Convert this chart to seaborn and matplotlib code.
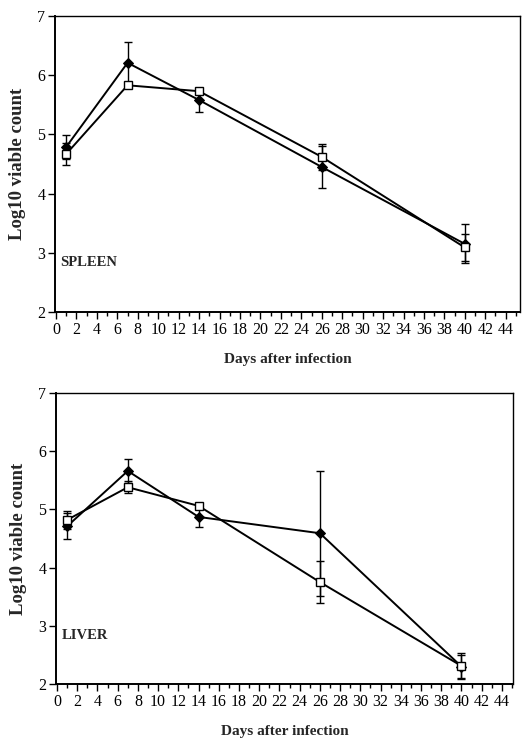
import matplotlib
matplotlib.use("Agg")
import matplotlib.pyplot as plt
from matplotlib.ticker import MultipleLocator
import seaborn as sns
import pandas as pd

days = [1, 7, 14, 26, 40]

spleen_filled = [4.79, 6.21, 5.58, 4.45, 3.15]
spleen_filled_err = [0.20, 0.35, 0.20, 0.36, 0.33]
spleen_open = [4.67, 5.83, 5.73, 4.62, 3.09]
spleen_open_err = [0.18, 0.05, 0.05, 0.22, 0.23]

liver_filled = [4.71, 5.66, 4.87, 4.59, 2.30]
liver_filled_err = [0.22, 0.21, 0.17, 1.07, 0.20]
liver_open = [4.82, 5.38, 5.06, 3.75, 2.31]
liver_open_err = [0.15, 0.10, 0.05, 0.36, 0.23]

x_ticks = list(range(0, 46, 2))
y_ticks = [2, 3, 4, 5, 6, 7]
panel_labels = ["SPLEEN", "LIVER"]
xlabel = "Days after infection"
ylabel = "Log10 viable count"

sns.set_theme(style="ticks")
plt.rcParams["font.family"] = ["Liberation Serif", "DejaVu Serif"]
plt.rcParams["axes.edgecolor"] = "black"
plt.rcParams["xtick.color"] = "black"
plt.rcParams["ytick.color"] = "black"

fig = plt.figure(figsize=(5.31, 7.42), dpi=100)
ax_top = fig.add_axes([0.1036, 0.5795, 0.8757, 0.3989])
ax_bot = fig.add_axes([0.1055, 0.0782, 0.8606, 0.3922])

panels = [
    (ax_top, spleen_filled, spleen_filled_err, spleen_open, spleen_open_err, panel_labels[0], 45.4),
    (ax_bot, liver_filled, liver_filled_err, liver_open, liver_open_err, panel_labels[1], 45.1),
]

for ax, yf, ef, yo, eo, label, xmax in panels:
    df_f = pd.DataFrame({"day": days, "val": yf})
    df_o = pd.DataFrame({"day": days, "val": yo})
    ax.errorbar(days, yf, yerr=ef, fmt="none", ecolor="black", elinewidth=1.0,
                capsize=3.2, capthick=1.0, zorder=2)
    ax.errorbar(days, yo, yerr=eo, fmt="none", ecolor="black", elinewidth=1.0,
                capsize=3.2, capthick=1.0, zorder=2)
    sns.lineplot(data=df_f, x="day", y="val", ax=ax, color="black", linewidth=1.4,
                 marker="D", markersize=5.2, markerfacecolor="black",
                 markeredgecolor="black", zorder=3)
    sns.lineplot(data=df_o, x="day", y="val", ax=ax, color="black", linewidth=1.4,
                 marker="s", markersize=6.0, markerfacecolor="white",
                 markeredgecolor="black", markeredgewidth=1.0, zorder=4)
    ax.set_xlim(-0.1, xmax)
    ax.set_ylim(2, 7)
    ax.set_xticks(x_ticks)
    ax.xaxis.set_minor_locator(MultipleLocator(1))
    ax.set_yticks(y_ticks)
    ax.tick_params(axis="both", which="major", direction="out", length=5, width=1.0,
                   labelsize=11.5, pad=2)
    ax.tick_params(axis="x", which="minor", direction="out", length=3, width=1.0)
    for s in ax.spines.values():
        s.set_visible(True)
        s.set_linewidth(1.0)
        s.set_color("black")
    ax.spines["left"].set_linewidth(1.4)
    ax.spines["bottom"].set_linewidth(1.4)
    ax.set_xlabel(xlabel, fontsize=11, fontweight="bold", labelpad=11)
    ax.set_ylabel(ylabel, fontsize=13.5, fontweight="bold", labelpad=8)
    ax.text(0.012, 0.166, label, transform=ax.transAxes, fontsize=10.5,
            fontweight="bold", va="center", ha="left")
    ax.grid(False)

fig.savefig("out.png", dpi=100, facecolor="white")
